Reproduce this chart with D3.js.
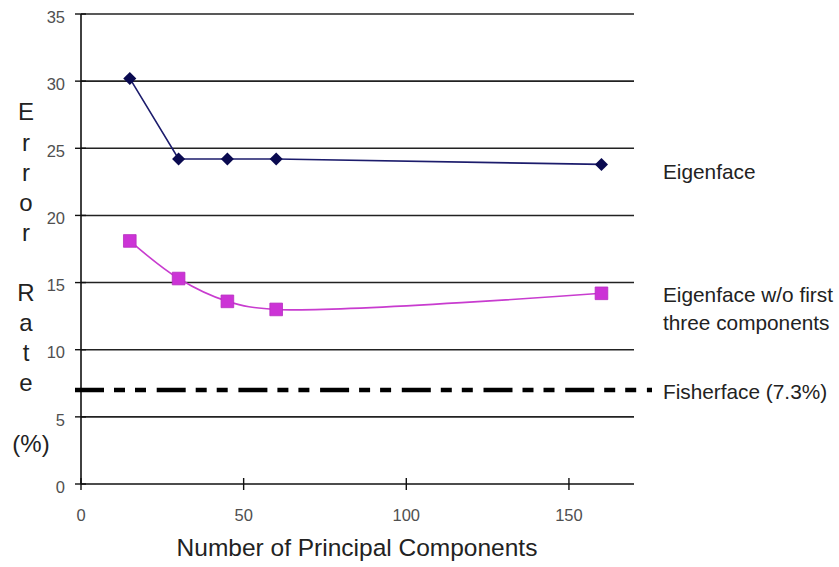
<!DOCTYPE html>
<html lang="en">
<head>
  <meta charset="UTF-8">
  <title>Error Rate vs Number of Principal Components</title>
  <script src="https://d3js.org/d3.v7.min.js"></script>
  <style>
    body { margin: 0; background: #fff; }
    text { font-family: "Liberation Sans", Arial, sans-serif; }
  </style>
</head>
<body>
  <svg width="839" height="567"></svg>

  <script>
    const width = 839, height = 567;

    // data
    const components = [15, 30, 45, 60, 160];
    const eigenface = [30.2, 24.2, 24.2, 24.2, 23.8];
    const eigenfaceNo3 = [18.1, 15.3, 13.6, 13.0, 14.2];
    const fisherface = 7.0;
    const yTicks = [0, 5, 10, 15, 20, 25, 30, 35];
    const xTicks = [0, 50, 100, 150];
    const yLetters = ["E", "r", "r", "o", "r", "", "R", "a", "t", "e", "", "(%)"];

    const svg = d3.select("svg");

    const x = d3.scaleLinear().domain([0, 170]).range([81, 634]);
    const y = d3.scaleLinear().domain([0, 35]).range([484, 14]);

    // horizontal grid lines
    svg.append("g")
      .selectAll("line")
      .data(yTicks.filter(d => d > 0))
      .join("line")
      .attr("x1", x(0)).attr("x2", x(170))
      .attr("y1", d => y(d)).attr("y2", d => y(d))
      .attr("stroke", "#222").attr("stroke-width", 1.6);

    // y axis: line + crossing ticks
    const yAxis = svg.append("g");
    yAxis.append("line")
      .attr("x1", x(0)).attr("x2", x(0))
      .attr("y1", y(0)).attr("y2", y(35))
      .attr("stroke", "#111").attr("stroke-width", 1.6);
    yAxis.selectAll("line.tick")
      .data(yTicks)
      .join("line").attr("class", "tick")
      .attr("x1", x(0) - 6).attr("x2", x(0) + 5)
      .attr("y1", d => y(d)).attr("y2", d => y(d))
      .attr("stroke", "#111").attr("stroke-width", 1.4);
    yAxis.selectAll("text")
      .data(yTicks)
      .join("text")
      .attr("x", 65).attr("y", d => y(d) + 3)
      .attr("dy", "0.35em")
      .attr("text-anchor", "end")
      .attr("font-size", 16.5).attr("fill", "#505050")
      .text(d => d);

    // x axis: line + crossing ticks
    const xAxis = svg.append("g");
    xAxis.append("line")
      .attr("x1", x(0)).attr("x2", x(170))
      .attr("y1", y(0)).attr("y2", y(0))
      .attr("stroke", "#111").attr("stroke-width", 1.6);
    xAxis.selectAll("line.tick")
      .data(xTicks)
      .join("line").attr("class", "tick")
      .attr("x1", d => x(d)).attr("x2", d => x(d))
      .attr("y1", y(0) - 6).attr("y2", y(0) + 6)
      .attr("stroke", "#111").attr("stroke-width", 1.4);
    xAxis.selectAll("text")
      .data(xTicks)
      .join("text")
      .attr("x", d => x(d)).attr("y", 515)
      .attr("dy", "0.35em")
      .attr("text-anchor", "middle")
      .attr("font-size", 16.5).attr("fill", "#505050")
      .text(d => d);

    svg.append("text")
      .attr("x", 357).attr("y", 556)
      .attr("text-anchor", "middle")
      .attr("font-size", 24.5).attr("fill", "#222")
      .text("Number of Principal Components");

    // vertical y label, one letter per row
    svg.append("g")
      .selectAll("text")
      .data(yLetters)
      .join("text")
      .attr("x", (d, i) => d === "(%)" ? 31 : 26)
      .attr("y", (d, i) => 112 + i * 30.1)
      .attr("dy", "0.35em")
      .attr("text-anchor", "middle")
      .attr("font-size", 24).attr("fill", "#222")
      .text(d => d);

    // Fisherface dashed reference line (long, short, short)
    svg.append("line")
      .attr("x1", 75).attr("x2", 652)
      .attr("y1", y(fisherface)).attr("y2", y(fisherface))
      .attr("stroke", "#000").attr("stroke-width", 4.5)
      .attr("stroke-dasharray", "29,10,11,10,11,10.7");

    // Eigenface w/o first three components (smoothed)
    const pts2 = components.map((c, i) => [c, eigenfaceNo3[i]]);
    svg.append("path")
      .datum(pts2)
      .attr("fill", "none")
      .attr("stroke", "#c83ccf").attr("stroke-width", 1.6)
      .attr("d", d3.line().x(d => x(d[0])).y(d => y(d[1])).curve(d3.curveCatmullRom.alpha(0.5)));
    svg.append("g")
      .selectAll("path")
      .data(pts2)
      .join("path")
      .attr("transform", d => `translate(${x(d[0])},${y(d[1])})`)
      .attr("d", d3.symbol(d3.symbolSquare, 160))
      .attr("fill", "#cc33d6").attr("stroke", "#b52dbf").attr("stroke-width", 0.8);

    // Eigenface
    const pts1 = components.map((c, i) => [c, eigenface[i]]);
    svg.append("path")
      .datum(pts1)
      .attr("fill", "none")
      .attr("stroke", "#1c1c6c").attr("stroke-width", 1.6)
      .attr("d", d3.line().x(d => x(d[0])).y(d => y(d[1])));
    svg.append("g")
      .selectAll("path")
      .data(pts1)
      .join("path")
      .attr("transform", d => `translate(${x(d[0])},${y(d[1])}) rotate(45)`)
      .attr("d", d3.symbol(d3.symbolSquare, 85))
      .attr("fill", "#0a0a50");

    // series labels
    const labels = [
      { text: "Eigenface", y: 172 },
      { text: "Eigenface w/o first", y: 295 },
      { text: "three components", y: 323 },
      { text: "Fisherface (7.3%)", y: 392 }
    ];
    svg.append("g")
      .selectAll("text")
      .data(labels)
      .join("text")
      .attr("x", 663).attr("y", d => d.y)
      .attr("dy", "0.35em")
      .attr("font-size", 20.8).attr("fill", "#222")
      .text(d => d.text);
  </script>
</body>
</html>
